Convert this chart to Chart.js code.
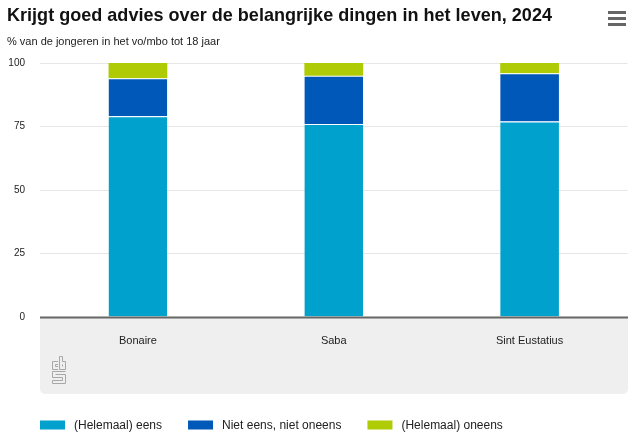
<!DOCTYPE html>
<html>
<head>
<meta charset="utf-8">
<script src="https://cdn.jsdelivr.net/npm/chart.js@4"></script>
<style>
  html, body { margin: 0; padding: 0; background: #fff; }
  body { width: 639px; height: 448px; position: relative; overflow: hidden; }
  #title { position: absolute; left: 7px; top: 4px; font-family: "Liberation Sans", Arial, sans-serif; font-weight: bold; font-size: 19px; color: #111; white-space: nowrap; transform-origin: 0 0; }
  #subtitle { position: absolute; left: 7px; top: 35px; font-family: "Liberation Sans", sans-serif; font-size: 11px; color: #222; white-space: nowrap; }
  #menu { position: absolute; left: 608px; top: 11px; width: 18px; }
  #menu div { height: 3px; background: #666; margin-bottom: 3px; }
  #wrap { position: absolute; left: 0; top: 0; width: 639px; height: 448px; }
</style>
</head>
<body>
<div id="wrap"><canvas id="c" width="639" height="448"></canvas></div>
<div id="title">Krijgt goed advies over de belangrijke dingen in het leven, 2024</div>
<div id="subtitle">% van de jongeren in het vo/mbo tot 18 jaar</div>
<div id="menu"><div></div><div></div><div></div></div>
<script>
const categories = ["Bonaire", "Saba", "Sint Eustatius"];
const seriesNames = ["(Helemaal) eens", "Niet eens, niet oneens", "(Helemaal) oneens"];
const eens = [79, 76, 77];
const neutraal = [15, 19, 19];
const oneens = [6, 5, 4];
const yTicks = [0, 25, 50, 75, 100];
const colors = ["#00a1cd", "#0058b8", "#afcb05"];

const FONT = "'Liberation Sans', Arial, sans-serif";

// fit title to the reference width
(function () {
  const t = document.getElementById("title");
  const w = t.getBoundingClientRect().width;
  const target = 545;
  if (w > 0) t.style.transform = "scaleX(" + (target / w) + ")";
})();

const bandPlugin = {
  id: "band",
  beforeDraw(chart) {
    const ctx = chart.ctx, a = chart.chartArea;
    const x0 = a.left, x1 = 628, y0 = a.bottom, y1 = 394, r = 6;
    ctx.save();
    ctx.fillStyle = "#efefef";
    ctx.beginPath();
    ctx.moveTo(x0, y0);
    ctx.lineTo(x1, y0);
    ctx.lineTo(x1, y1 - r);
    ctx.quadraticCurveTo(x1, y1, x1 - r, y1);
    ctx.lineTo(x0 + r, y1);
    ctx.quadraticCurveTo(x0, y1, x0, y1 - r);
    ctx.closePath();
    ctx.fill();
    // CBS logo (outline)
    ctx.strokeStyle = "#a8a8a8";
    ctx.lineWidth = 1;
    const L = 52, T = 356;
    const seg = (pts) => { ctx.beginPath(); ctx.moveTo(L + pts[0][0], T + pts[0][1]); for (let i = 1; i < pts.length; i++) ctx.lineTo(L + pts[i][0], T + pts[i][1]); ctx.stroke(); };
    // c
    seg([[6, 5.5], [0.5, 5.5], [0.5, 13.5], [6, 13.5]]);
    seg([[6, 8.5], [3.5, 8.5], [3.5, 10.5], [6, 10.5]]);
    // b
    seg([[7.5, 0.5], [7.5, 13.5], [13.5, 13.5], [13.5, 5.5], [10.5, 5.5], [10.5, 0.5], [7.5, 0.5]]);
    seg([[10.5, 8.5], [10.5, 10.5]]);
    // s
    seg([[13.5, 15.5], [0.5, 15.5], [0.5, 21.5], [10.5, 21.5], [10.5, 24.5], [0.5, 24.5], [0.5, 27.5], [13.5, 27.5], [13.5, 18.5], [3.5, 18.5]]);
    ctx.restore();
  },
  afterDatasetsDraw(chart) {
    const ctx = chart.ctx, a = chart.chartArea;
    const y = chart.scales.y.getPixelForValue(0);
    ctx.save();
    ctx.strokeStyle = "#666";
    ctx.lineWidth = 2;
    ctx.beginPath();
    ctx.moveTo(a.left, y + 0.5);
    ctx.lineTo(628, y + 0.5);
    ctx.stroke();
    ctx.restore();
  },
  afterDraw(chart) {
    // legend
    const ctx = chart.ctx;
    let x = 40;
    const yc = 425;
    ctx.save();
    ctx.font = "12px " + FONT;
    ctx.textBaseline = "middle";
    ctx.textAlign = "left";
    chart.data.datasets.forEach((ds) => {
      ctx.fillStyle = ds.backgroundColor;
      ctx.fillRect(x, yc - 4.5, 25, 9);
      ctx.fillStyle = "#222";
      ctx.fillText(ds.label, x + 34, yc + 0.5);
      x += 34 + ctx.measureText(ds.label).width + 26;
    });
    ctx.restore();
  }
};

new Chart(document.getElementById("c"), {
  type: "bar",
  data: {
    labels: categories,
    datasets: [
      { label: seriesNames[0], data: eens, backgroundColor: colors[0], borderColor: "#fff", borderWidth: { top: 1, left: 0, right: 0, bottom: 0 }, borderSkipped: false },
      { label: seriesNames[1], data: neutraal, backgroundColor: colors[1], borderColor: "#fff", borderWidth: { top: 1, left: 0, right: 0, bottom: 0 }, borderSkipped: false },
      { label: seriesNames[2], data: oneens, backgroundColor: colors[2], borderWidth: 0 }
    ]
  },
  options: {
    responsive: false,
    animation: false,
    devicePixelRatio: 1,
    layout: { padding: { top: 63, left: 0, right: 11.5, bottom: 54 } },
    datasets: { bar: { barPercentage: 0.3, categoryPercentage: 1 } },
    plugins: { legend: { display: false }, tooltip: { enabled: false }, title: { display: false } },
    scales: {
      x: {
        stacked: true,
        grid: { display: false },
        border: { display: false },
        ticks: { color: "#222", font: { family: FONT, size: 11 }, padding: 9 },
        afterFit(s) { s.height = 77; }
      },
      y: {
        stacked: true,
        min: 0, max: 100,
        afterBuildTicks(s) { s.ticks = yTicks.map(v => ({ value: v })); },
        grid: { color: "#e6e6e6", drawTicks: false },
        border: { display: false },
        ticks: { color: "#222", font: { family: FONT, size: 10 }, padding: 15 },
        afterFit(s) { s.width = 40; }
      }
    }
  },
  plugins: [bandPlugin]
});
</script>
</body>
</html>
